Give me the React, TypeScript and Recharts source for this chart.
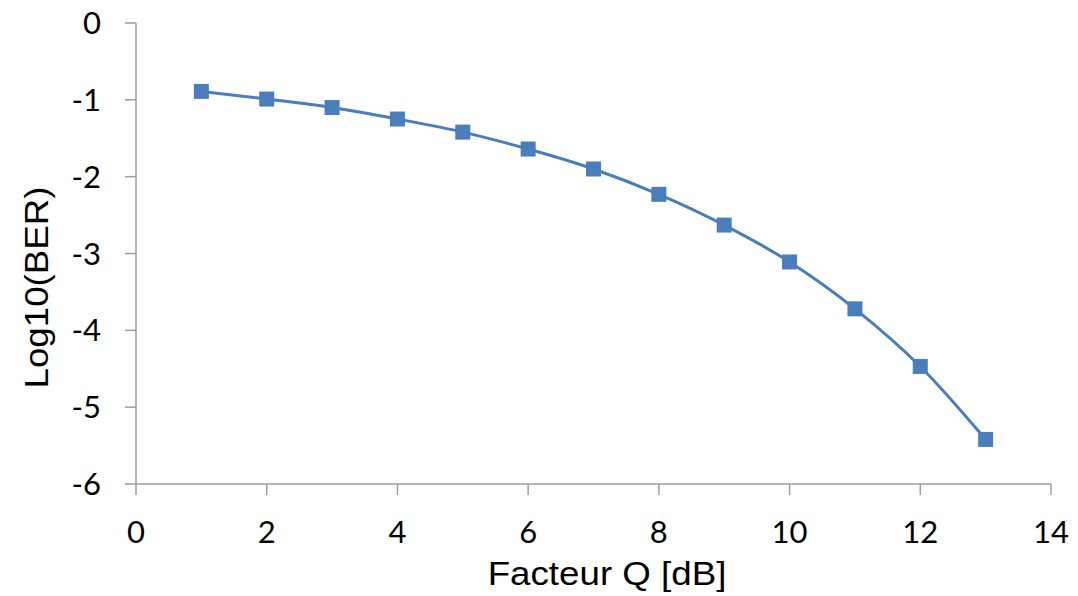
import React from 'react';
import { LineChart, Line, XAxis, YAxis } from 'recharts';

const qFactor = [1, 2, 3, 4, 5, 6, 7, 8, 9, 10, 11, 12, 13];
const logBer = [-0.89, -0.99, -1.1, -1.25, -1.42, -1.64, -1.9, -2.23, -2.63, -3.11, -3.72, -4.47, -5.42];
const xTicks = [0, 2, 4, 6, 8, 10, 12, 14];
const yTicks = [0, -1, -2, -3, -4, -5, -6];

const data = qFactor.map((q, i) => ({ q, ber: logBer[i] }));

const blue = '#4a7ebb';
const axisColor = '#9e9e9e';
const tickStyle = { fontSize: 31, fill: '#000', fontFamily: 'Lato, sans-serif' };
const titleFont = 'Liberation Sans, Arial, sans-serif';

const SquareDot = (props: any) => {
  const { cx, cy, index } = props;
  if (cx == null || cy == null) return null;
  return <rect key={index} x={cx - 7.5} y={cy - 7.5} width={15} height={15} fill={blue} />;
};

// Excel title text is a bit wider than Arial, so stretch it horizontally
const XTitle = (props: any) => {
  const vb = props.viewBox;
  const x = vb.x + vb.width / 2 + 13.5;
  const y = vb.y + 101;
  return (
    <text
      transform={`translate(${x} ${y}) scale(1.13 1)`}
      x={0}
      y={0}
      textAnchor="middle"
      fontSize={32.5}
      fontFamily={titleFont}
      fill="#000"
    >
      Facteur Q [dB]
    </text>
  );
};

const YTitle = (props: any) => {
  const vb = props.viewBox;
  const x = vb.x + 48;
  const y = vb.y + vb.height / 2 + 34;
  return (
    <text
      transform={`translate(${x} ${y}) rotate(-90) scale(1.13 1)`}
      x={0}
      y={0}
      textAnchor="middle"
      fontSize={32.5}
      fontFamily={titleFont}
      fill="#000"
    >
      Log10(BER)
    </text>
  );
};

export default function App() {
  return (
    <div style={{ position: 'absolute', left: 0, top: 0, background: '#fff' }}>
      <LineChart width={1078} height={596} data={data} margin={{ top: 23, right: 27, bottom: 0, left: 0 }}>
        <XAxis
          dataKey="q"
          type="number"
          domain={[0, 14]}
          ticks={xTicks}
          height={112}
          tickSize={11}
          tickMargin={26}
          tick={tickStyle}
          stroke={axisColor}
          strokeWidth={1.5}
          label={<XTitle />}
        />
        <YAxis
          type="number"
          domain={[-6, 0]}
          ticks={yTicks}
          width={136}
          tickSize={11}
          tickMargin={24}
          tick={tickStyle}
          stroke={axisColor}
          strokeWidth={1.5}
          label={<YTitle />}
        />
        <Line
          type="monotone"
          dataKey="ber"
          stroke={blue}
          strokeWidth={3}
          dot={SquareDot}
          activeDot={false}
          isAnimationActive={false}
        />
      </LineChart>
    </div>
  );
}
